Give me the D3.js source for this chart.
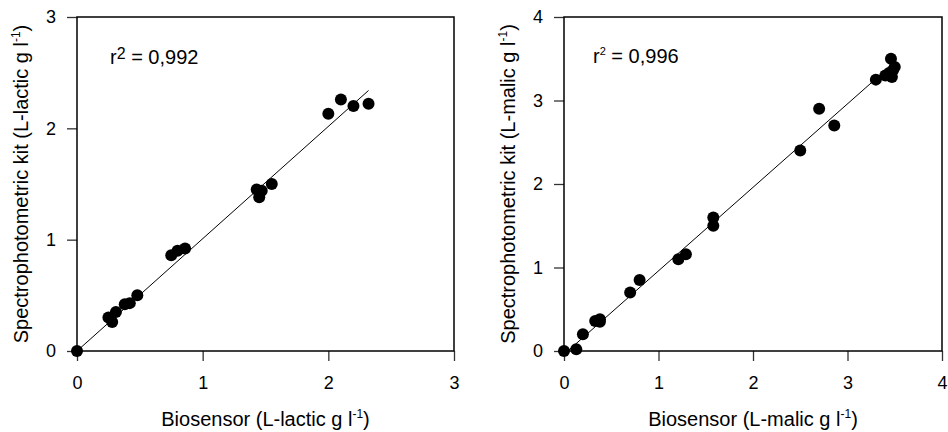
<!DOCTYPE html>
<html>
<head>
<meta charset="utf-8">
<script src="https://cdn.jsdelivr.net/npm/d3@7"></script>
<style>
  body { margin: 0; background: #fff; }
  svg { font-family: "Liberation Sans", Arial, Helvetica, sans-serif; }
</style>
</head>
<body>
<script>
// values
const lacticBio = [0, 0.25, 0.28, 0.31, 0.38, 0.42, 0.48, 0.75, 0.80, 0.86, 1.43, 1.47, 1.45, 1.55, 2.00, 2.10, 2.20, 2.32];
const lacticKit = [0, 0.30, 0.26, 0.35, 0.42, 0.43, 0.50, 0.86, 0.90, 0.92, 1.45, 1.44, 1.38, 1.50, 2.13, 2.26, 2.20, 2.22];
const lacticFit = [[0, 0], [2.32, 2.34]];
const lacticTicks = [0, 1, 2, 3];

const malicBio = [0, 0.13, 0.20, 0.33, 0.38, 0.38, 0.70, 0.80, 1.21, 1.29, 1.58, 1.58, 2.50, 2.70, 2.86, 3.30, 3.40, 3.44, 3.46, 3.50, 3.47, 3.48];
const malicKit = [0, 0.02, 0.20, 0.36, 0.38, 0.35, 0.70, 0.85, 1.10, 1.16, 1.60, 1.50, 2.40, 2.90, 2.70, 3.25, 3.30, 3.33, 3.50, 3.40, 3.28, 3.36];
const malicFit = [[0.04, 0], [3.50, 3.46]];
const malicTicks = [0, 1, 2, 3, 4];

const width = 948;
const height = 432;

const svg = d3.select('body')
  .append('svg')
  .attr('width', width)
  .attr('height', height);

function drawPanel(opts) {
  const x = d3.scaleLinear().domain([0, opts.max]).range([opts.left, opts.right]);
  const y = d3.scaleLinear().domain([0, opts.max]).range([351, 17]);
  const g = svg.append('g');

  // axes
  const xAxis = g.append('g')
    .attr('transform', 'translate(0,351)')
    .call(d3.axisBottom(x).tickValues(opts.ticks).tickSize(10).tickPadding(15).tickFormat(d3.format('d')));
  const yAxis = g.append('g')
    .attr('transform', `translate(${opts.left},0)`)
    .call(d3.axisLeft(y).tickValues(opts.ticks).tickSize(10).tickPadding(11).tickFormat(d3.format('d')));
  [xAxis, yAxis].forEach(a => {
    a.select('.domain').remove();
    a.selectAll('line').attr('stroke', '#333').attr('stroke-width', 1.3);
    a.selectAll('text').attr('fill', '#000').style('font-size', '18px')
      .style('font-family', '"Liberation Sans", Arial, sans-serif');
  });

  // frame
  g.append('rect')
    .attr('x', opts.left)
    .attr('y', 17)
    .attr('width', opts.right - opts.left)
    .attr('height', 334)
    .attr('fill', 'none')
    .attr('stroke', '#000')
    .attr('stroke-width', 1.5);

  // fit line
  g.append('path')
    .datum(opts.fit)
    .attr('d', d3.line().x(d => x(d[0])).y(d => y(d[1])))
    .attr('fill', 'none')
    .attr('stroke', '#000')
    .attr('stroke-width', 1);

  // points
  g.selectAll('circle.pt')
    .data(d3.zip(opts.bio, opts.kit))
    .enter()
    .append('circle')
    .attr('class', 'pt')
    .attr('cx', d => x(d[0]))
    .attr('cy', d => y(d[1]))
    .attr('r', 6)
    .attr('fill', '#000');

  // x title
  const xt = g.append('text')
    .attr('x', (opts.left + opts.right) / 2)
    .attr('y', 426)
    .attr('text-anchor', 'middle')
    .style('font-size', '20px');
  xt.append('tspan').text(`Biosensor (${opts.acid} g l`);
  xt.append('tspan').attr('dy', -8).style('font-size', '12px').text('-1');
  xt.append('tspan').attr('dy', 8).text(')');

  // y title
  const yt = g.append('text')
    .attr('transform', `translate(${opts.left - 49},184) rotate(-90)`)
    .attr('text-anchor', 'middle')
    .style('font-size', '20px');
  yt.append('tspan').text(`Spectrophotometric kit (${opts.acid} g l`);
  yt.append('tspan').attr('dy', -8).style('font-size', '12px').text('-1');
  yt.append('tspan').attr('dy', 8).text(')');

  return g;
}

const left = drawPanel({
  left: 77, right: 454, max: 3, ticks: lacticTicks,
  bio: lacticBio, kit: lacticKit, fit: lacticFit, acid: 'L-lactic'
});
const r1 = left.append('text').attr('x', 110).attr('y', 64).style('font-size', '20px');
r1.append('tspan').text('r');
r1.append('tspan').attr('dy', -5).style('font-size', '16px').text('2');
r1.append('tspan').attr('dy', 5).text(' = 0,992');

const right = drawPanel({
  left: 564, right: 942, max: 4, ticks: malicTicks,
  bio: malicBio, kit: malicKit, fit: malicFit, acid: 'L-malic'
});
const r2 = right.append('text').attr('x', 593).attr('y', 63).style('font-size', '20px');
r2.append('tspan').text('r');
r2.append('tspan').attr('dy', -8).style('font-size', '11px').text('2');
r2.append('tspan').attr('dy', 8).text(' = 0,996');
</script>
</body>
</html>
